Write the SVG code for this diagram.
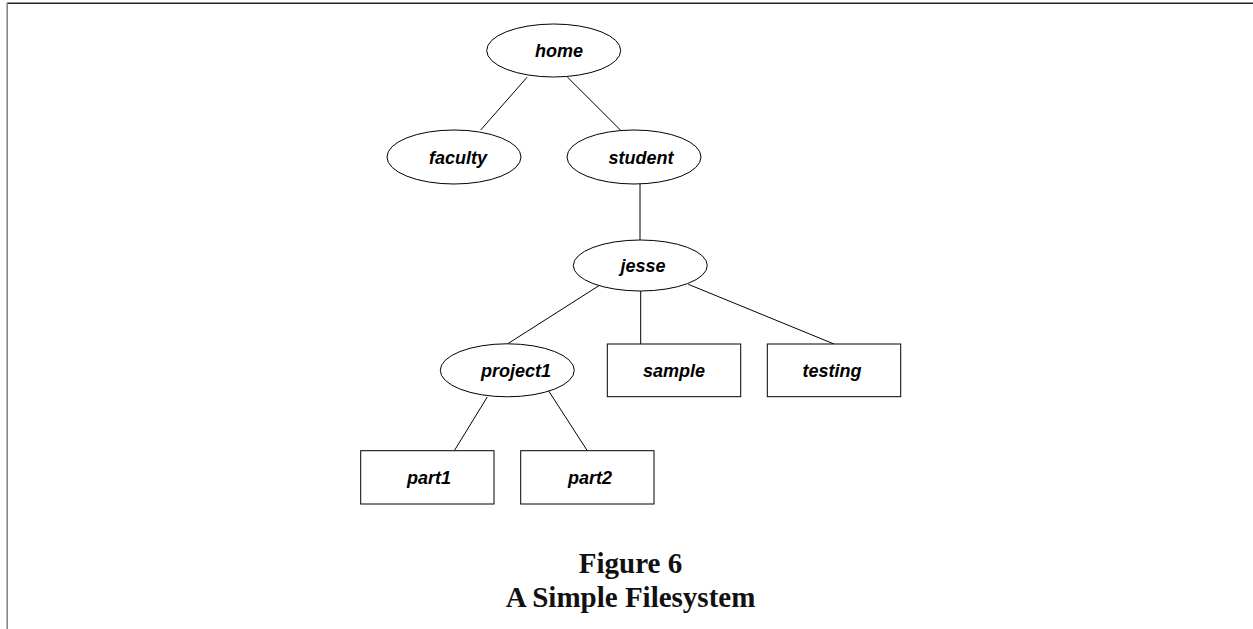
<svg xmlns="http://www.w3.org/2000/svg" width="1253" height="629" viewBox="0 0 1253 629">
<style>
.shape{fill:#fff;stroke:#000;stroke-width:1}
.lbl{font-family:"Liberation Sans",Arial,sans-serif;font-weight:bold;font-style:italic;font-size:18px;text-anchor:middle;fill:#000}
.cap{font-family:"Liberation Serif","Times New Roman",serif;font-weight:bold;font-size:29px;text-anchor:middle;fill:#111}
.edge{stroke:#000;stroke-width:1;fill:none}
</style>
<rect width="1253" height="629" fill="#fff"/>
<g id="frame">
<line x1="7" y1="3.3" x2="1253" y2="3.3" stroke="#222" stroke-width="1.4"/>
<line x1="7.2" y1="3" x2="7.2" y2="629" stroke="#888" stroke-width="1.6"/>
</g>
<g id="connectors">
<line class="edge" x1="527" y1="77.3" x2="480.7" y2="130"/>
<line class="edge" x1="567.3" y1="77" x2="620.7" y2="130.3"/>
<line class="edge" x1="640" y1="184" x2="640" y2="240"/>
<line class="edge" x1="600" y1="285" x2="507.3" y2="344"/>
<line class="edge" x1="640.7" y1="291" x2="640.7" y2="344"/>
<line class="edge" x1="688.3" y1="284.3" x2="834" y2="344"/>
<line class="edge" x1="487.3" y1="397" x2="454.3" y2="450.7"/>
<line class="edge" x1="548.7" y1="391" x2="587.3" y2="450.7"/>
</g>
<g id="home"><ellipse class="shape" cx="553.7" cy="50.5" rx="67" ry="26.5"/><text class="lbl" x="559" y="57">home</text></g>
<g id="faculty"><ellipse class="shape" cx="454" cy="157" rx="67" ry="27"/><text class="lbl" x="458" y="163.5">faculty</text></g>
<g id="student"><ellipse class="shape" cx="634" cy="157" rx="67" ry="27"/><text class="lbl" x="641" y="163.5">student</text></g>
<g id="jesse"><ellipse class="shape" cx="640.3" cy="265.5" rx="67" ry="25.5"/><text class="lbl" x="643" y="272">jesse</text></g>
<g id="project1"><ellipse class="shape" cx="507.3" cy="370.3" rx="67" ry="26.5"/><text class="lbl" x="516" y="376.8">project1</text></g>
<g id="sample"><rect class="shape" x="607.3" y="344" width="133.4" height="52.7"/><text class="lbl" x="674" y="376.8">sample</text></g>
<g id="testing"><rect class="shape" x="767.3" y="344" width="133.4" height="52.7"/><text class="lbl" x="832" y="376.8">testing</text></g>
<g id="part1"><rect class="shape" x="360.7" y="450.7" width="133.3" height="53.3"/><text class="lbl" x="429" y="483.8">part1</text></g>
<g id="part2"><rect class="shape" x="520.7" y="450.7" width="133.3" height="53.3"/><text class="lbl" x="590" y="483.8">part2</text></g>
<g id="caption">
<text class="cap" x="630.5" y="573">Figure 6</text>
<text class="cap" x="630.5" y="607">A Simple Filesystem</text>
</g>
</svg>
